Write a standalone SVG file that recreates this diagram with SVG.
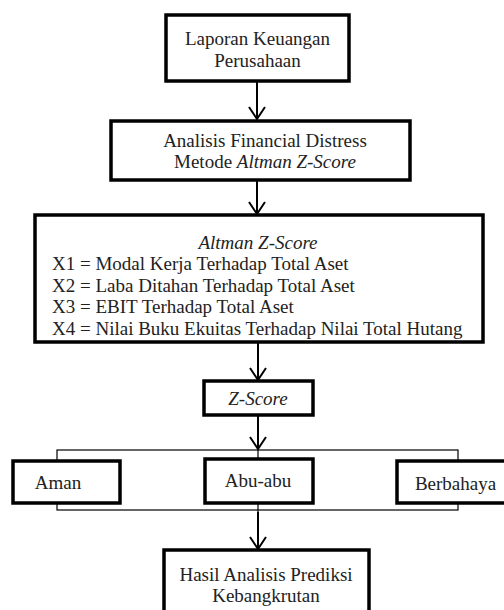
<svg xmlns="http://www.w3.org/2000/svg" width="504" height="610" viewBox="0 0 504 610">
<defs>
<style>
.box{fill:#fff;stroke:#000;stroke-width:3.5}
text{font-family:'Liberation Serif','Times New Roman',serif;font-size:19px;fill:#222}
.m{text-anchor:middle}
.i{font-style:italic}
.c{fill:none;stroke:#000;stroke-width:2}
.thin{fill:none;stroke:#000;stroke-width:1.2}
</style>
</defs>
<rect width="504" height="610" fill="#fff"/>
<g id="connectors">
<rect class="thin" x="57" y="450" width="401" height="60"/>
<line class="c" x1="257" y1="81" x2="257" y2="119"/>
<line class="c" x1="257" y1="181" x2="257" y2="214"/>
<line class="c" x1="258" y1="342" x2="258" y2="380"/>
<line class="c" x1="258" y1="415" x2="258" y2="449"/>
<line class="thin" x1="258" y1="450" x2="258" y2="460"/>
<line class="thin" x1="258" y1="502" x2="258" y2="512"/>
<line class="c" x1="258" y1="512" x2="258" y2="549"/>
<path class="c" d="M249,107 L257,119 L265,107"/>
<path class="c" d="M249,202 L257,214 L265,202"/>
<path class="c" d="M250,368 L258,380 L266,368"/>
<path class="c" d="M250,437 L258,449 L266,437"/>
<path class="c" d="M250,537 L258,549 L266,537"/>
</g>
<g id="laporan">
<rect class="box" x="166" y="15" width="183" height="66"/>
<text class="m" x="257.5" y="45" font-family="Liberation Serif, serif">Laporan Keuangan</text>
<text class="m" x="257.5" y="66.5" font-family="Liberation Serif, serif">Perusahaan</text>
</g>
<g id="analisis">
<rect class="box" x="111" y="121" width="299" height="59"/>
<text class="m" x="265" y="146.5">Analisis Financial Distress</text>
<text class="m" x="265" y="168">Metode <tspan class="i">Altman Z-Score</tspan></text>
</g>
<g id="altman">
<rect class="box" x="35" y="215" width="448" height="127"/>
<text class="m i" x="258" y="248.5">Altman Z-Score</text>
<text x="52" y="270">X1 = Modal Kerja Terhadap Total Aset</text>
<text x="52" y="291.5">X2 = Laba Ditahan Terhadap Total Aset</text>
<text x="52" y="313">X3 = EBIT Terhadap Total Aset</text>
<text x="52" y="334.5">X4 = Nilai Buku Ekuitas Terhadap Nilai Total Hutang</text>
</g>
<g id="zscore">
<rect class="box" x="204" y="381" width="109" height="34"/>
<text class="m i" x="258" y="405">Z-Score</text>
</g>
<g id="aman">
<rect class="box" x="13" y="461" width="107" height="42"/>
<text class="m" x="58" y="489">Aman</text>
</g>
<g id="abuabu">
<rect class="box" x="205" y="459" width="108" height="44"/>
<text class="m" x="258" y="486.5">Abu-abu</text>
</g>
<g id="berbahaya">
<rect class="box" x="397" y="461" width="112" height="42"/>
<text class="m" x="455.5" y="490">Berbahaya</text>
</g>
<g id="hasil">
<rect class="box" x="164" y="550" width="205" height="70"/>
<text class="m" x="266" y="581">Hasil Analisis Prediksi</text>
<text class="m" x="266" y="602">Kebangkrutan</text>
</g>
</svg>
